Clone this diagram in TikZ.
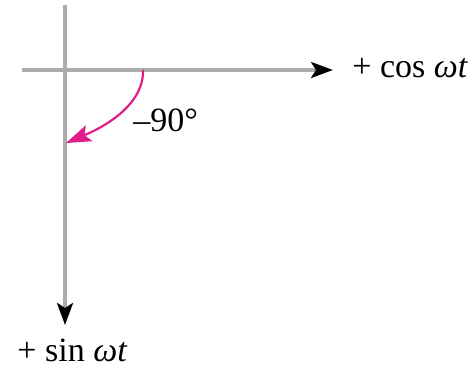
\documentclass[tikz,border=0pt]{standalone}
\usepackage{fontspec}
\setmainfont{Liberation Serif}
\usetikzlibrary{arrows.meta}
\definecolor{axisgray}{RGB}{172,172,172}
\definecolor{phasemag}{RGB}{226,28,138}
\begin{document}
\begin{tikzpicture}[x=0.5pt,y=-0.5pt,
    axis/.style={draw=axisgray, line width=1.8pt, -{Stealth[black,length=11pt,width=8pt,inset=2.5pt]}},
    phase/.style={draw=phasemag, line width=1.1pt, -{Stealth[phasemag,length=12.5pt,width=8.5pt,inset=2.5pt]}},
    lbl/.style={font=\fontsize{17}{20}\selectfont, inner sep=0pt}]
    \useasboundingbox (0,0) rectangle (473,374);
    \coordinate (O) at (65,70);
    \coordinate (xs) at (22,70);
    \coordinate (xe) at (333,70);
    \coordinate (ys) at (65,5);
    \coordinate (ye) at (65,325);

    % axes
    \draw[axis] (xs) -- (xe);
    \draw[axis] (ys) -- (ye);
    \node[lbl, anchor=base west] (cos) at (352,78) {+ cos \textit{ωt}};
    \node[lbl, anchor=base west] (sin) at (17,362) {+ sin \textit{ωt}};

    % phase shift of -90 degrees
    \coordinate (p0) at (143,70);
    \coordinate (p1) at (66,143);
    \draw[phase] (p0) .. controls (144,105) and (104,127) .. (p1);
    \node[lbl, anchor=base west] (ang) at (133,132) {–90°};
\end{tikzpicture}
\end{document}
